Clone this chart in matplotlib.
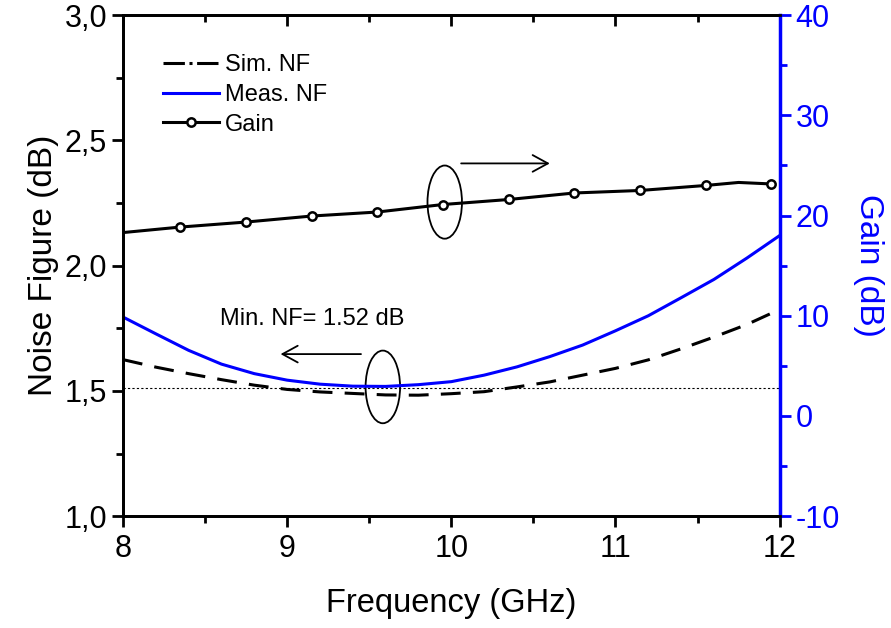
import matplotlib
matplotlib.use("Agg")
import matplotlib.pyplot as plt
from matplotlib.patches import Ellipse
from matplotlib.lines import Line2D
from matplotlib.ticker import MultipleLocator, FuncFormatter

plt.rcParams['font.family'] = ['Liberation Sans', 'DejaVu Sans']
plt.rcParams['axes.unicode_minus'] = False

# valeurs
freq_nf = [8.0, 8.2, 8.4, 8.6, 8.8, 9.0, 9.2, 9.4, 9.6, 9.8, 10.0,
           10.2, 10.4, 10.6, 10.8, 11.0, 11.2, 11.4, 11.6, 11.8, 12.0]
sim_nf = [1.625, 1.595, 1.569, 1.545, 1.523, 1.506, 1.496, 1.490, 1.484, 1.483, 1.489,
          1.497, 1.516, 1.536, 1.563, 1.590, 1.624, 1.668, 1.715, 1.765, 1.825]
meas_nf = [1.795, 1.728, 1.662, 1.607, 1.569, 1.543, 1.527, 1.519, 1.518, 1.525, 1.537,
           1.563, 1.596, 1.637, 1.683, 1.740, 1.800, 1.872, 1.945, 2.030, 2.120]

gain_freq = [8.0, 8.35, 8.75, 9.15, 9.55, 9.95, 10.35, 10.75, 11.15, 11.55, 11.75, 11.95]
gain_db = [18.3, 18.85, 19.35, 19.95, 20.35, 21.1, 21.6, 22.25, 22.5, 23.0, 23.3, 23.15]
gain_marks = [1, 2, 3, 4, 5, 6, 7, 8, 9, 11]

min_nf = 1.51
blue = '#0000ff'

fig = plt.figure(figsize=(8.91, 6.28), dpi=100)
ax = fig.add_axes([0.138, 0.178, 0.737, 0.798])
ax2 = ax.twinx()

ax.plot(freq_nf, sim_nf, color='black', lw=2.2, dashes=(6.5, 4))
ax.plot(freq_nf, meas_nf, color=blue, lw=2.2)
ax.axhline(min_nf, color='black', lw=0.8, ls=(0, (2, 2)))
ax2.plot(gain_freq, gain_db, color='black', lw=2.2, marker='o', markevery=gain_marks,
         markersize=6, markerfacecolor='white', markeredgecolor='black', markeredgewidth=1.8)

# ellipses + fleches
ax.add_patch(Ellipse((9.583, 1.516), 0.21, 0.29, fill=False, lw=1.3, color='black'))
ax2.add_patch(Ellipse((9.96, 21.34), 0.21, 7.3, fill=False, lw=1.3, color='black'))
ax.annotate('', xy=(8.96, 1.647), xytext=(9.45, 1.647),
            arrowprops=dict(arrowstyle='->,head_length=0.55,head_width=0.3', lw=1.3,
                            color='black', mutation_scale=20, shrinkA=0, shrinkB=0))
ax2.annotate('', xy=(10.6, 25.2), xytext=(10.06, 25.2),
             arrowprops=dict(arrowstyle='->,head_length=0.55,head_width=0.3', lw=1.3,
                             color='black', mutation_scale=20, shrinkA=0, shrinkB=0))
ax.text(8.59, 1.787, 'Min. NF= 1.52 dB', fontsize=17, va='center', ha='left')

ax.set_xlim(8, 12)
ax.set_ylim(1.0, 3.0)
ax2.set_ylim(-10, 40)

ax.xaxis.set_major_locator(MultipleLocator(1))
ax.xaxis.set_minor_locator(MultipleLocator(0.5))
ax.yaxis.set_major_locator(MultipleLocator(0.5))
ax.yaxis.set_minor_locator(MultipleLocator(0.25))
ax.yaxis.set_major_formatter(FuncFormatter(lambda v, p: ('%.1f' % v).replace('.', ',')))
ax2.yaxis.set_major_locator(MultipleLocator(10))
ax2.yaxis.set_minor_locator(MultipleLocator(5))

ax.tick_params(axis='both', which='major', direction='out', length=8, width=2, labelsize=22)
ax.tick_params(axis='both', which='minor', direction='out', length=5, width=2)
ax.tick_params(axis='x', which='both', top=True)
ax.tick_params(axis='x', which='major', pad=5)
ax2.tick_params(axis='y', which='major', direction='out', length=8, width=2,
                colors=blue, labelsize=22)
ax2.tick_params(axis='y', which='minor', direction='out', length=5, width=2, colors=blue)

for s in ax.spines.values():
    s.set_linewidth(2)
for s in ['left', 'top', 'bottom']:
    ax2.spines[s].set_linewidth(2)
ax2.spines['right'].set_color(blue)
ax2.spines['right'].set_linewidth(2.5)

# ticks du haut vers l'interieur
for t in ax.xaxis.get_major_ticks() + ax.xaxis.get_minor_ticks():
    t.tick2line.set_marker(matplotlib.lines.TICKDOWN)

ax.set_xlabel('Frequency (GHz)', fontsize=23.5, labelpad=17)
ax.set_ylabel('Noise Figure (dB)', fontsize=24, labelpad=4)
ax2.set_ylabel('Gain (dB)', fontsize=24, color=blue, rotation=270, labelpad=32)

handles = [Line2D([], [], color='black', lw=2.2, dashes=(7, 1.5, 1, 1.5)),
           Line2D([], [], color=blue, lw=2.2),
           Line2D([], [], color='black', lw=2.2, marker='o', markersize=6,
                  markerfacecolor='white', markeredgewidth=1.8)]
ax2.legend(handles, ['Sim. NF', 'Meas. NF', 'Gain'], loc='upper left',
           bbox_to_anchor=(0.061, 0.922), frameon=False, fontsize=17,
           handlelength=2.37, handletextpad=0.25, labelspacing=0.33,
           borderpad=0, borderaxespad=0)

fig.savefig('out.png', dpi=100)
